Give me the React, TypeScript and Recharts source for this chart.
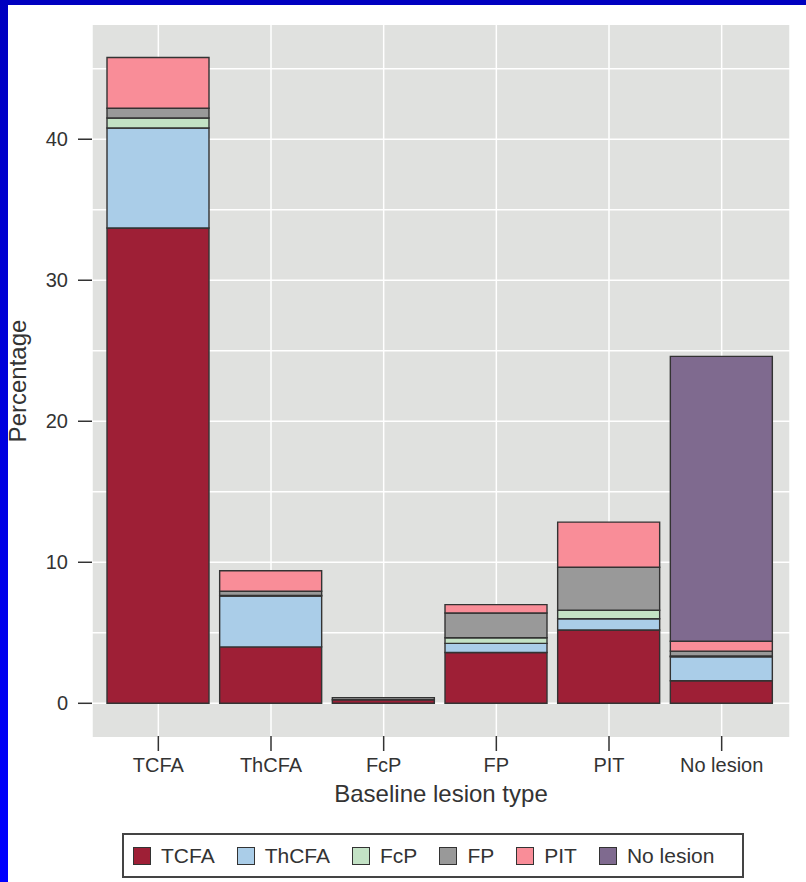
import { BarChart, Bar, XAxis, YAxis, CartesianGrid, Legend } from 'recharts';

const categories = ['TCFA', 'ThCFA', 'FcP', 'FP', 'PIT', 'No lesion'];
const tcfa = [33.7, 4.0, 0.25, 3.6, 5.2, 1.6];
const thcfa = [7.1, 3.6, 0, 0.65, 0.8, 1.7];
const fcp = [0.7, 0.05, 0, 0.4, 0.6, 0.05];
const fp = [0.7, 0.3, 0.15, 1.75, 3.05, 0.35];
const pit = [3.6, 1.45, 0, 0.6, 3.2, 0.7];
const noLesion = [0, 0, 0, 0, 0, 20.2];
const yTicks = [0, 10, 20, 30, 40];
const gridValues = [0, 5, 10, 15, 20, 25, 30, 35, 40, 45];

const series = [
  { key: 'TCFA', values: tcfa, color: '#9E1F36' },
  { key: 'ThCFA', values: thcfa, color: '#AACDE8' },
  { key: 'FcP', values: fcp, color: '#C3E2C5' },
  { key: 'FP', values: fp, color: '#999999' },
  { key: 'PIT', values: pit, color: '#F98D98' },
  { key: 'No lesion', values: noLesion, color: '#7F6A8F' },
];

const data = categories.map((name, i) => {
  const row: Record<string, string | number> = { name };
  series.forEach((s) => {
    row[s.key] = s.values[i];
  });
  return row;
});

const FONT = '"Liberation Sans", Arial, sans-serif';
const TEXT = '#333';

const XTick = ({ x, y, payload }: any) => (
  <g>
    <line x1={x} x2={x} y1={y - 1} y2={y + 14} stroke={TEXT} strokeWidth={1.5} />
    <text x={x} y={y + 35} textAnchor="middle" fontSize={20} fill={TEXT} fontFamily={FONT}>
      {payload.value}
    </text>
  </g>
);

const YTick = ({ x, y, payload }: any) => (
  <g>
    <line x1={x - 14} x2={x} y1={y} y2={y} stroke={TEXT} strokeWidth={1.5} />
    <text x={x - 24} y={y + 7} textAnchor="end" fontSize={20} fill={TEXT} fontFamily={FONT}>
      {payload.value}
    </text>
  </g>
);

const LegendBox = () => (
  <div
    style={{
      boxSizing: 'border-box',
      height: 45,
      width: 622,
      border: '2px solid #444',
      display: 'flex',
      alignItems: 'center',
      paddingLeft: 9,
      fontFamily: FONT,
      fontSize: 21,
      color: TEXT,
      whiteSpace: 'nowrap',
      overflow: 'hidden',
    }}
  >
    {series.map((s) => (
      <div key={s.key} style={{ display: 'flex', alignItems: 'center', marginRight: 22, flexShrink: 0 }}>
        <span
          style={{
            boxSizing: 'border-box',
            width: 18,
            height: 18,
            background: s.color,
            border: '1.5px solid #333',
            marginRight: 10,
            flexShrink: 0,
          }}
        />
        <span>{s.key}</span>
      </div>
    ))}
  </div>
);

export default function App() {
  return (
    <div style={{ position: 'absolute', left: 0, top: 0, width: 806, height: 882, background: '#fff' }}>
      <div style={{ position: 'absolute', left: 0, top: 0, width: 806, height: 5, background: '#0000c0' }} />
      <div
        style={{
          position: 'absolute',
          left: 0,
          top: 0,
          width: 8,
          height: 882,
          background: 'linear-gradient(#0000c0, #0000ff)',
        }}
      />
      <BarChart
        width={806}
        height={882}
        data={data}
        margin={{ top: 25, right: 16, bottom: 4, left: 0 }}
        barSize={102}
        style={{ position: 'absolute', left: 0, top: 0 }}
      >
        <CartesianGrid
          fill="#E0E1DF"
          fillOpacity={1}
          stroke="#fff"
          strokeWidth={1.5}
          horizontalValues={gridValues}
        />
        <XAxis
          dataKey="name"
          height={96}
          padding={{ left: 10, right: 12 }}
          axisLine={false}
          tickLine={false}
          tickSize={0}
          tickMargin={0}
          tick={<XTick />}
          interval={0}
          label={{
            value: 'Baseline lesion type',
            position: 'insideTop',
            offset: 48,
            fontSize: 24,
            fill: TEXT,
            fontFamily: FONT,
          }}
        />
        <YAxis
          width={92}
          domain={[-2.39, 48.1]}
          ticks={yTicks}
          allowDataOverflow
          axisLine={false}
          tickLine={false}
          tickSize={0}
          tickMargin={0}
          tick={<YTick />}
          label={{
            content: ({ viewBox }: any) => (
              <text
                x={0}
                y={0}
                transform={`translate(26, ${viewBox.y + viewBox.height / 2}) rotate(-90)`}
                textAnchor="middle"
                fontSize={24}
                fill={TEXT}
                fontFamily={FONT}
              >
                Percentage
              </text>
            ),
          }}
        />
        <Legend
          verticalAlign="bottom"
          content={<LegendBox />}
          wrapperStyle={{ left: 122, width: 622 }}
        />
        {series.map((s) => (
          <Bar
            key={s.key}
            dataKey={s.key}
            stackId="a"
            fill={s.color}
            stroke="#333"
            strokeWidth={1.4}
            isAnimationActive={false}
          />
        ))}
      </BarChart>
    </div>
  );
}
